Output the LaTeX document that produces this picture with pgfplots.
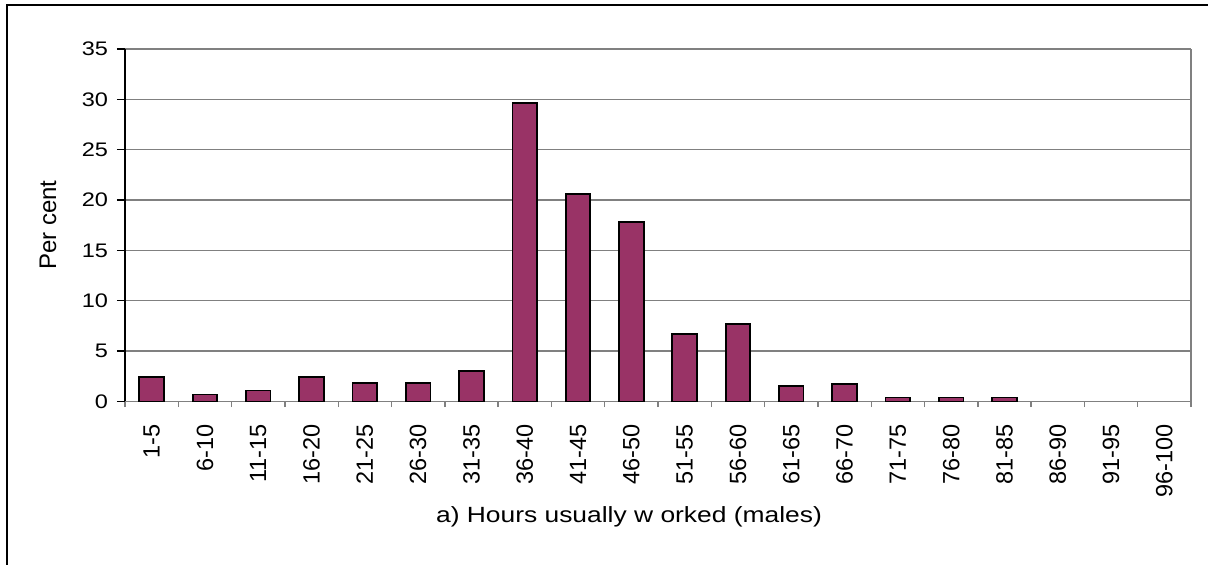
\documentclass[border=0pt]{standalone}
\usepackage{fontspec}
\setmainfont{Liberation Sans}
\newfontfamily\widefont{Liberation Sans}[FakeStretch=1.2]
\usepackage{pgfplots}
\pgfplotsset{compat=1.18}
\definecolor{barfill}{HTML}{993366}
\definecolor{gridgray}{HTML}{808080}
\begin{document}
\begin{tikzpicture}
\useasboundingbox (-62.5pt,-81.75pt) rectangle (541.5pt,200.75pt);
\draw[line width=0.8pt] (541.5pt,198.25pt) -- (-59pt,198.25pt) -- (-59pt,-81.75pt);
\begin{axis}[
  at={(0,0)}, anchor=south west,
  scale only axis, width=533pt, height=176.25pt,
  /pgf/number format/assume math mode=true,
  xmin=-0.5, xmax=19.5, ymin=0, ymax=35,
  ytick={0,5,...,35},
  xtick={0,...,19},
  xticklabels={1-5,6-10,11-15,16-20,21-25,26-30,31-35,36-40,41-45,46-50,51-55,56-60,61-65,66-70,71-75,76-80,81-85,86-90,91-95,96-100},
  minor xtick={-0.5,0.5,...,19.5},
  tick align=outside,
  major tick length=4pt,
  x tick style={draw=none},
  minor x tick style={draw=gridgray, line width=0.7pt},
  y tick style={draw=black, line width=0.7pt},
  minor tick length=2.8pt,
  xtick pos=bottom, ytick pos=left,
  ymajorgrids, grid style={draw=gridgray, line width=0.7pt},
  axis line style={line width=0.7pt},
  axis x line*=bottom, axis y line*=left,
  x axis line style={draw=gridgray},
  xticklabel style={font=\fontsize{11.75}{14}\selectfont, yshift=-4pt, rotate=90, anchor=east},
  yticklabel style={font=\widefont\fontsize{9.8}{11.8}\selectfont, anchor=east, xshift=-1pt},
  xlabel={a) Hours usually w orked (males)},
  ylabel={Per cent},
  every axis x label/.style={at={(rel axis cs:0.4728,0)}, yshift=-57.5pt, anchor=center, font=\widefont\fontsize{11}{13.2}\selectfont},
  every axis y label/.style={at={(rel axis cs:0,0.5)}, xshift=-38.5pt, rotate=90, anchor=center, font=\fontsize{12}{14.4}\selectfont},
  clip=false,
]
\draw[gridgray, line width=0.7pt] (rel axis cs:1,0) -- (rel axis cs:1,1);
\addplot[ybar, bar width=12.3pt, fill=barfill, draw=black, line width=0.9pt] coordinates {
(0,2.4) (1,0.7) (2,1.1) (3,2.4) (4,1.8) (5,1.8) (6,3.0) (7,29.6) (8,20.6) (9,17.8)
(10,6.7) (11,7.7) (12,1.5) (13,1.7) (14,0.4) (15,0.4) (16,0.4)
};
\end{axis}
\end{tikzpicture}
\end{document}
